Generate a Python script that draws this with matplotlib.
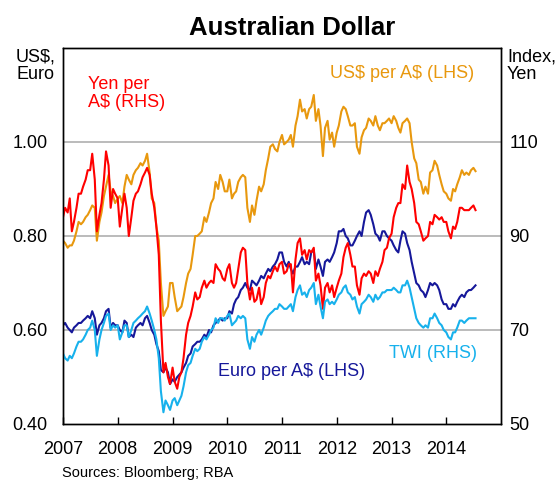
import matplotlib.pyplot as plt
import pandas as pd

plt.rcParams['font.family'] = ['Liberation Sans', 'DejaVu Sans']
plt.rcParams['text.parse_math'] = False

# half-monthly observations, Jan 2007 - Jul 2014
dates = pd.date_range('2007-01-01', '2014-07-15', freq='SMS')

# US$ per A$ (LHS)
usd = [
    0.790, 0.785, 0.775, 0.780, 0.780, 0.790, 0.810, 0.830, 0.825, 0.830, 0.840, 0.845,
    0.855, 0.865, 0.860, 0.790, 0.830, 0.850, 0.885, 0.905, 0.930, 0.895, 0.885, 0.870,
    0.880, 0.885, 0.870, 0.905, 0.930, 0.920, 0.910, 0.930, 0.940, 0.945, 0.955, 0.950,
    0.960, 0.975, 0.935, 0.880, 0.870, 0.820, 0.790, 0.700, 0.630, 0.640, 0.650, 0.700,
    0.700, 0.670, 0.640, 0.645, 0.650, 0.670, 0.700, 0.720, 0.730, 0.760, 0.800, 0.800,
    0.805, 0.810, 0.840, 0.830, 0.850, 0.870, 0.880, 0.915, 0.900, 0.930, 0.915, 0.895,
    0.895, 0.920, 0.880, 0.890, 0.895, 0.915, 0.925, 0.930, 0.925, 0.860, 0.830, 0.865,
    0.845, 0.875, 0.905, 0.895, 0.910, 0.940, 0.965, 0.990, 0.995, 0.985, 0.980, 1.000,
    1.015, 0.995, 1.000, 1.005, 1.015, 0.990, 1.035, 1.055, 1.090, 1.065, 1.070, 1.050,
    1.070, 1.075, 1.100, 1.045, 1.070, 1.035, 0.970, 1.030, 1.045, 1.005, 1.020, 0.990,
    1.020, 1.035, 1.065, 1.075, 1.070, 1.055, 1.035, 1.035, 1.040, 0.990, 0.975, 1.010,
    1.025, 1.030, 1.050, 1.045, 1.035, 1.055, 1.035, 1.025, 1.040, 1.040, 1.045, 1.050,
    1.040, 1.055, 1.045, 1.030, 1.020, 1.040, 1.045, 1.050, 1.040, 1.000, 0.965, 0.955,
    0.920, 0.915, 0.890, 0.905, 0.890, 0.935, 0.940, 0.960, 0.950, 0.930, 0.910, 0.895,
    0.890, 0.880, 0.875, 0.900, 0.895, 0.910, 0.925, 0.940, 0.930, 0.935, 0.930, 0.940,
    0.945, 0.938,
]

# Euro per A$ (LHS)
eur = [
    0.610, 0.615, 0.605, 0.600, 0.595, 0.605, 0.610, 0.615, 0.615, 0.620, 0.625, 0.630,
    0.625, 0.640, 0.625, 0.590, 0.610, 0.615, 0.625, 0.640, 0.645, 0.605, 0.615, 0.610,
    0.610, 0.600, 0.595, 0.620, 0.615, 0.585, 0.590, 0.585, 0.605, 0.610, 0.615, 0.610,
    0.625, 0.630, 0.615, 0.600, 0.590, 0.570, 0.555, 0.515, 0.510, 0.520, 0.510, 0.485,
    0.495, 0.490, 0.500, 0.505, 0.510, 0.520, 0.530, 0.545, 0.550, 0.565, 0.570, 0.575,
    0.575, 0.580, 0.590, 0.585, 0.600, 0.595, 0.610, 0.615, 0.620, 0.625, 0.620, 0.625,
    0.625, 0.640, 0.635, 0.655, 0.665, 0.670, 0.685, 0.690, 0.700, 0.690, 0.685, 0.705,
    0.700, 0.695, 0.705, 0.715, 0.710, 0.720, 0.730, 0.725, 0.735, 0.740, 0.750, 0.765,
    0.765, 0.745, 0.735, 0.745, 0.730, 0.720, 0.735, 0.735, 0.745, 0.755, 0.740, 0.745,
    0.740, 0.765, 0.770, 0.730, 0.750, 0.735, 0.715, 0.745, 0.750, 0.745, 0.755, 0.765,
    0.785, 0.810, 0.810, 0.815, 0.800, 0.795, 0.780, 0.780, 0.790, 0.800, 0.810, 0.800,
    0.830, 0.850, 0.855, 0.845, 0.825, 0.805, 0.800, 0.790, 0.810, 0.810, 0.800, 0.795,
    0.790, 0.780, 0.770, 0.765, 0.790, 0.810, 0.805, 0.785, 0.770, 0.745, 0.720, 0.700,
    0.695, 0.685, 0.680, 0.670, 0.685, 0.700, 0.695, 0.700, 0.695, 0.685, 0.665, 0.655,
    0.655, 0.645, 0.645, 0.655, 0.650, 0.660, 0.670, 0.675, 0.670, 0.680, 0.685, 0.685,
    0.690, 0.695,
]

# Yen per A$ (RHS)
yen = [
    94.0, 96.0, 95.0, 98.0, 91.0, 93.0, 96.0, 99.0, 99.0, 100.5, 102.0, 104.0,
    104.0, 107.5, 102.0, 91.0, 94.5, 97.0, 102.0, 108.0, 105.0, 96.0, 100.0, 99.0,
    98.0, 92.0, 96.0, 99.0, 96.0, 90.0, 94.0, 97.5, 99.0, 99.5, 101.0, 102.5,
    103.5, 104.5, 103.0, 99.0, 96.0, 92.0, 86.0, 72.0, 61.0, 63.0, 60.0, 58.5,
    62.0, 59.0, 57.5, 60.0, 61.0, 64.0, 69.0, 71.5, 73.0, 75.0, 78.0, 76.5,
    77.0, 79.0, 80.5, 79.0, 80.0, 80.5, 80.0, 84.0, 83.0, 82.5, 81.0, 80.5,
    83.0, 84.0, 80.0, 79.0, 80.0, 83.0, 86.5, 87.5, 87.0, 80.0, 76.5, 79.0,
    76.0, 76.5, 79.0, 75.5, 77.0, 80.0, 81.5, 81.0, 82.5, 83.5, 82.5, 84.0,
    84.5, 82.0, 82.5, 84.0, 84.0, 78.0, 85.0, 88.5, 89.5, 86.0, 87.0, 85.0,
    87.0, 86.5, 87.5, 80.5, 82.0, 79.5, 74.5, 79.0, 80.0, 78.0, 79.5, 77.0,
    79.0, 80.5, 82.0, 85.5, 87.5, 88.5, 86.0, 83.5, 83.5, 79.5, 77.5, 81.0,
    82.0, 81.5, 82.5, 82.0, 80.0, 82.5, 81.5, 83.0, 84.5, 87.0, 87.5, 89.5,
    90.5, 94.0, 96.0, 97.0, 97.0, 101.0, 100.0, 105.0, 101.5, 100.0, 97.0, 93.0,
    92.5, 91.0, 89.0, 89.5, 90.0, 93.0, 92.5, 94.5, 94.0, 93.5, 94.0, 93.0,
    93.0, 91.0, 89.5, 92.0, 91.5, 93.0, 96.0, 96.0, 95.5, 95.5, 95.5, 96.0,
    96.5, 95.5,
]

# trade-weighted index (RHS)
twi = [
    65.0, 64.0, 63.5, 64.5, 64.0, 65.0, 66.5, 67.5, 67.5, 68.0, 69.0, 70.0,
    70.5, 72.0, 70.0, 64.5, 68.0, 70.0, 71.5, 73.0, 73.5, 70.0, 71.0, 70.5,
    71.0, 68.0, 69.5, 71.0, 71.0, 68.5, 70.0, 71.5, 72.0, 72.5, 73.0, 73.5,
    74.0, 75.0, 73.5, 72.0, 70.0, 68.0, 64.0, 57.0, 52.5, 55.0, 54.0, 53.0,
    55.0, 55.5, 54.0, 55.0, 56.0, 58.0, 61.0, 62.5, 63.0, 64.5, 66.0, 65.5,
    66.0, 67.5, 68.5, 68.0, 69.0, 70.0, 70.5, 72.5, 71.5, 72.5, 72.5, 72.0,
    73.0, 73.5, 71.0, 71.5, 72.0, 73.0, 72.5, 73.0, 72.5, 68.0, 66.0, 68.5,
    67.5, 69.0, 70.0, 69.0, 70.5, 72.0, 73.0, 73.5, 74.0, 74.5, 74.5, 75.5,
    75.0, 74.5, 74.5, 75.0, 75.5, 74.0, 77.0, 78.5, 79.5, 77.5, 78.0, 77.0,
    78.5, 79.0, 80.0, 75.5, 77.5, 75.0, 72.5, 76.0, 76.5, 75.5, 76.0, 75.5,
    76.5, 77.5, 78.0, 79.0, 79.5, 78.0, 77.5, 76.5, 77.0, 75.0, 73.5, 75.5,
    76.0, 76.5, 77.5, 77.0, 76.0, 77.5, 76.5, 77.0, 78.0, 78.0, 78.5, 78.5,
    78.5, 79.0, 78.5, 78.0, 78.0, 79.5, 79.5, 80.5, 79.0, 77.0, 74.5, 72.5,
    71.5, 71.0, 70.5, 71.0, 70.5, 72.5, 72.5, 73.5, 72.5, 71.5, 71.0, 70.0,
    69.5, 68.5, 68.0, 69.5, 69.5, 70.5, 72.0, 72.0, 71.5, 72.0, 72.5, 72.5,
    72.5, 72.5,
]

years = list(range(2007, 2015))
left_ticks = [0.40, 0.60, 0.80, 1.00]
right_ticks = [50, 70, 90, 110]

c_usd = '#E8980E'
c_eur = '#16189A'
c_yen = '#FF0000'
c_twi = '#17B1EC'

fig = plt.figure(figsize=(5.59, 4.82), dpi=100)
ax = fig.add_axes([63 / 559, 1 - 424 / 482, 438 / 559, 376 / 482])
ax2 = ax.twinx()

ax.plot(dates, usd, color=c_usd, lw=1.5)
ax.plot(dates, eur, color=c_eur, lw=1.5)
ax2.plot(dates, yen, color=c_yen, lw=1.5)
ax2.plot(dates, twi, color=c_twi, lw=1.5)

ax.set_xlim(pd.Timestamp('2007-01-01'), pd.Timestamp('2015-01-01'))
ax.set_ylim(0.40, 1.20)
ax2.set_ylim(50, 130)

for v in [0.60, 0.80, 1.00]:
    ax.axhline(v, color='#A8A8A8', lw=1.1, zorder=0)

ax.set_xticks([pd.Timestamp(f'{y}-01-01') for y in years])
ax.set_xticklabels([str(y) for y in years])
ax.set_yticks(left_ticks)
ax.set_yticklabels([f'{v:.2f}' for v in left_ticks])
ax2.set_yticks(right_ticks)
ax2.set_yticklabels([str(v) for v in right_ticks])

ax.tick_params(axis='x', direction='in', length=5, width=1, pad=12, labelsize=13)
ax.tick_params(axis='y', length=0, pad=11, labelsize=13)
ax2.tick_params(axis='y', length=0, pad=6, labelsize=13)

for a in (ax, ax2):
    for s in a.spines.values():
        s.set_color('black')
        s.set_linewidth(1)

fig.text(292 / 559, 1 - 35 / 482, 'Australian Dollar', ha='center', va='baseline',
         fontsize=18.5, fontweight='bold')
fig.text(16 / 559, 1 - 48 / 482, 'US$,\nEuro', ha='left', va='top', fontsize=13,
         linespacing=1.05)
fig.text(507 / 559, 1 - 48 / 482, 'Index,\nYen', ha='left', va='top', fontsize=13,
         linespacing=1.05)

fig.text(88 / 559, 1 - 76 / 482, 'Yen per\nA$ (RHS)', ha='left', va='top', fontsize=13,
         color=c_yen, linespacing=1.05)
fig.text(474 / 559, 1 - 74 / 482, 'US$ per A$ (LHS)', ha='right', va='center',
         fontsize=13, color=c_usd)
fig.text(218 / 559, 1 - 372 / 482, 'Euro per A$ (LHS)', ha='left', va='center',
         fontsize=13, color=c_eur)
fig.text(477 / 559, 1 - 353 / 482, 'TWI (RHS)', ha='right', va='center',
         fontsize=13, color=c_twi)

fig.text(62 / 559, 1 - 480 / 482, 'Sources: Bloomberg; RBA', ha='left', va='bottom',
         fontsize=10.5)

fig.savefig('out.png', dpi=100)
